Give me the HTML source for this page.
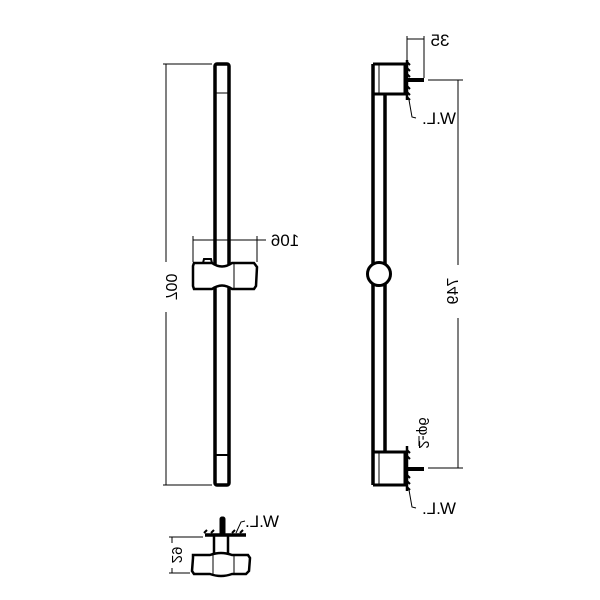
<!DOCTYPE html>
<html><head><meta charset="utf-8"><style>
html,body{margin:0;padding:0;background:#fff;}
svg{display:block;}
text{font-family:"Liberation Sans",sans-serif;font-size:17px;fill:#000;}
</style></head><body>
<svg width="600" height="600" viewBox="0 0 600 600" xmlns="http://www.w3.org/2000/svg">
<g fill="none" stroke="#000">
<rect x="215" y="64" width="14" height="421" rx="2" stroke-width="3.5"/>
<line x1="216" y1="93" x2="228" y2="93" stroke-width="1"/>
<line x1="216" y1="455" x2="228" y2="455" stroke-width="2"/>
<line x1="166" y1="64" x2="166" y2="262" stroke-width="1"/>
<line x1="166" y1="312" x2="166" y2="485" stroke-width="1"/>
<line x1="163" y1="64" x2="212" y2="64" stroke-width="1"/>
<line x1="163" y1="485" x2="212" y2="485" stroke-width="1"/>
<path d="M194,263 L212,263 Q222,270 232,263 L254,263 L257,267 L256,286 L254,289 L232,289 Q222,282 212,289 L194,289 L193,286 L193,266 Z" fill="#fff" stroke-width="2.5"/>
<line x1="234" y1="263" x2="234" y2="289" stroke-width="1"/>
<path d="M203,263 L204,259 L211,259 L212,263" stroke-width="2"/>
<line x1="193" y1="240" x2="266" y2="240" stroke-width="1"/>
<line x1="193" y1="236" x2="193" y2="262" stroke-width="1"/>
<line x1="257" y1="236" x2="257" y2="262" stroke-width="1"/>

<line x1="373" y1="64" x2="373" y2="485" stroke-width="3.5"/>
<line x1="385" y1="94" x2="385" y2="452" stroke-width="3.5"/>
<line x1="379" y1="64" x2="379" y2="94" stroke-width="1"/>
<line x1="379" y1="452" x2="379" y2="485" stroke-width="1"/>
<path d="M373,64 L405,64 L405,94 L373,94" stroke-width="3"/>
<path d="M373,452 L405,452 L405,485 L373,485" stroke-width="3"/>
<line x1="407" y1="60" x2="407" y2="100" stroke-width="2.5"/>
<line x1="407" y1="446" x2="407" y2="491" stroke-width="2.5"/>
<path d="M407,62 l3,3 M407,68 l3,3 M407,74 l3,3 M407,86 l3,3 M407,92 l3,3 M407,97 l3,3" stroke-width="2"/>
<path d="M407,450 l3,3 M407,456 l3,3 M407,475 l3,3 M407,481 l3,3 M407,487 l3,3" stroke-width="2"/>
<path d="M407,80 L424,80" stroke-width="4"/>
<path d="M407,469 L424,469" stroke-width="4"/>
<circle cx="379" cy="274" r="11.5" fill="#fff" stroke-width="3"/>
<line x1="407" y1="36" x2="407" y2="60" stroke-width="1"/>
<line x1="424" y1="36" x2="424" y2="78" stroke-width="1"/>
<line x1="407" y1="39" x2="424" y2="39" stroke-width="1"/>
<line x1="458" y1="80" x2="458" y2="265" stroke-width="1"/>
<line x1="458" y1="318" x2="458" y2="468" stroke-width="1"/>
<line x1="428" y1="80" x2="463" y2="80" stroke-width="1"/>
<line x1="428" y1="468" x2="463" y2="468" stroke-width="1"/>
<path d="M409,100 L412,117 L416,118" stroke-width="1"/>
<path d="M409,490 L412,507 L416,508" stroke-width="1"/>
<line x1="419" y1="436" x2="419" y2="446" stroke-width="1"/>

<line x1="205" y1="535" x2="246" y2="535" stroke-width="3.5"/>
<path d="M204,533 l3,-3 M211,533 l3,-3 M232,533 l3,-3 M240,533 l3,-3" stroke-width="2"/>
<rect x="220" y="517" width="5" height="18" rx="2" fill="#000" stroke-width="1"/>
<line x1="214" y1="536" x2="214" y2="555" stroke-width="2.5"/>
<line x1="228" y1="536" x2="228" y2="555" stroke-width="2.5"/>
<path d="M193,555 L210,555 Q221,551 232,555 L248,555 L250,558 L249,571 L246,574 L232,574 Q221,578 210,574 L194,574 L192,571 L193,558 Z" stroke-width="2.5"/>
<line x1="213" y1="555" x2="213" y2="574" stroke-width="1"/>
<line x1="234" y1="555" x2="234" y2="574" stroke-width="1"/>
<line x1="172" y1="537" x2="172" y2="543" stroke-width="1"/>
<line x1="172" y1="568" x2="172" y2="573" stroke-width="1"/>
<line x1="169" y1="537" x2="203" y2="537" stroke-width="1"/>
<line x1="169" y1="573" x2="190" y2="573" stroke-width="1"/>
<path d="M236,533 L241,522 L245,521" stroke-width="1"/>
</g>
<g>
<text transform="translate(166,287) rotate(-90) scale(1,-1)" text-anchor="middle" style="font-size:16px">700</text>
<text transform="translate(285,246) scale(-1,1)" text-anchor="middle">106</text>
<text transform="translate(440,46) scale(-1,1)" text-anchor="middle">35</text>
<text transform="translate(458,291) rotate(90) scale(1,-1)" text-anchor="middle" style="font-size:16px">749</text>
<text transform="translate(419,433) rotate(-90) scale(1,-1)" text-anchor="middle" style="font-size:15px">2-φ6</text>
<text transform="translate(439,124) scale(-1,1)" text-anchor="middle">W.L.</text>
<text transform="translate(439,514) scale(-1,1)" text-anchor="middle">W.L.</text>
<text transform="translate(262,527) scale(-1,1)" text-anchor="middle">W.L.</text>
<text transform="translate(172,555) rotate(-90) scale(1,-1)" text-anchor="middle" style="font-size:15px">29</text>
</g>
</svg>
</body></html>
